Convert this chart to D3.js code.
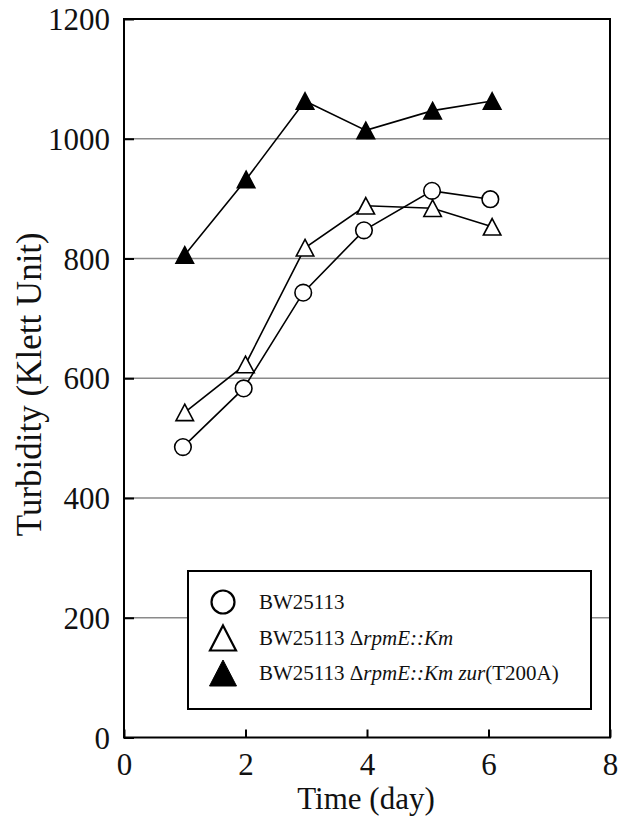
<!DOCTYPE html>
<html>
<head>
<meta charset="utf-8">
<script src="https://cdn.jsdelivr.net/npm/d3@7"></script>
<style>
  html, body { margin: 0; padding: 0; background: #fff; }
  svg { display: block; }
</style>
</head>
<body>
<svg id="chart" width="633" height="819"></svg>
<script>
// ---- data ----
const seriesNames = ["BW25113", "BW25113 ΔrpmE::Km", "BW25113 ΔrpmE::Km zur(T200A)"];
const wtDays = [0.97, 1.97, 2.95, 3.95, 5.07, 6.03];
const wtValues = [485, 583, 743, 847, 913, 899];
const rpmDays = [1.0, 2.0, 2.98, 3.98, 5.08, 6.06];
const rpmValues = [543, 623, 818, 888, 884, 853];
const zurDays = [1.0, 2.01, 2.98, 3.98, 5.08, 6.06];
const zurValues = [806, 932, 1063, 1014, 1047, 1063];
const xTicks = [0, 2, 4, 6, 8];
const yTicks = [0, 200, 400, 600, 800, 1000, 1200];
const gridValues = [200, 400, 600, 800, 1000];

// ---- layout ----
const FONT = "Liberation Serif";
const svg = d3.select("#chart");
const L = 124, R = 610, T = 19, B = 737.5;
const x = d3.scaleLinear().domain([0, 8]).range([L, R]);
const y = d3.scaleLinear().domain([0, 1200]).range([B, T]);

// gridlines
svg.append("g").selectAll("line").data(gridValues).join("line")
  .attr("x1", L).attr("x2", R)
  .attr("y1", d => y(d)).attr("y2", d => y(d))
  .attr("stroke", "#8a8a8a").attr("stroke-width", 1.6);

// axes via d3
const yAxis = d3.axisLeft(y).tickValues(yTicks).tickSize(-10).tickPadding(14).tickFormat(d3.format("d"));
const gy = svg.append("g").attr("transform", `translate(${L},0)`).call(yAxis);
gy.attr("font-family", FONT).attr("font-size", 31);
gy.select(".domain").remove();
gy.selectAll(".tick line").attr("stroke", "#000").attr("stroke-width", 2);
gy.selectAll(".tick text").style("font-family", FONT).attr("fill", "#111").attr("dy", "0.34em");

const xAxis = d3.axisBottom(x).tickValues(xTicks).tickSize(-8).tickPadding(15).tickFormat(d3.format("d"));
const gx = svg.append("g").attr("transform", `translate(0,${B})`).call(xAxis);
gx.attr("font-family", FONT).attr("font-size", 31);
gx.select(".domain").remove();
gx.selectAll(".tick line").attr("stroke", "#000").attr("stroke-width", 2);
gx.selectAll(".tick text").style("font-family", FONT).attr("fill", "#111");

// frame
svg.append("rect").attr("x", L).attr("y", T).attr("width", R - L).attr("height", B - T)
  .attr("fill", "none").attr("stroke", "#000").attr("stroke-width", 2);

// axis titles
svg.append("text").attr("x", (L + R) / 2 - 1).attr("y", 809).attr("text-anchor", "middle")
  .style("font-family", FONT).attr("font-size", 31).attr("fill", "#111").text("Time (day)");
svg.append("text").attr("transform", `translate(41,${(T + B) / 2 + 6}) rotate(-90)`)
  .attr("text-anchor", "middle").style("font-family", FONT).attr("font-size", 35).attr("fill", "#111")
  .text("Turbidity (Klett Unit)");

// marker shapes
function triPath(w, h) { return `M0,${-h / 2}L${w / 2},${h / 2}L${-w / 2},${h / 2}Z`; }

const series = [
  { days: wtDays, values: wtValues, shape: "circle", fill: "#fff" },
  { days: rpmDays, values: rpmValues, shape: "tri", fill: "#fff" },
  { days: zurDays, values: zurValues, shape: "tri", fill: "#000" }
];

const line = d3.line().x(d => x(d[0])).y(d => y(d[1]));
series.forEach(s => {
  const pts = s.days.map((d, i) => [d, s.values[i]]);
  svg.append("path").attr("d", line(pts)).attr("fill", "none")
    .attr("stroke", "#000").attr("stroke-width", 1.6);
});
series.forEach(s => {
  const pts = s.days.map((d, i) => [d, s.values[i]]);
  const g = svg.append("g");
  if (s.shape === "circle") {
    g.selectAll("circle").data(pts).join("circle")
      .attr("cx", d => x(d[0])).attr("cy", d => y(d[1])).attr("r", 8.3)
      .attr("fill", s.fill).attr("stroke", "#000").attr("stroke-width", 1.6);
  } else {
    g.selectAll("path").data(pts).join("path")
      .attr("transform", d => `translate(${x(d[0])},${y(d[1])})`)
      .attr("d", triPath(17.5, 16.5))
      .attr("fill", s.fill).attr("stroke", "#000").attr("stroke-width", 1.6)
      .attr("stroke-linejoin", "miter");
  }
});

// legend
const lg = svg.append("g");
lg.append("rect").attr("x", 188).attr("y", 571).attr("width", 403).attr("height", 138)
  .attr("fill", "#fff").attr("stroke", "#000").attr("stroke-width", 2);
const rowsY = [602, 638, 673];
const mx = 223, tx = 259;
lg.append("circle").attr("cx", mx).attr("cy", rowsY[0]).attr("r", 11.5)
  .attr("fill", "#fff").attr("stroke", "#000").attr("stroke-width", 2.2);
lg.append("path").attr("transform", `translate(${mx},${rowsY[1]})`).attr("d", triPath(26, 25))
  .attr("fill", "#fff").attr("stroke", "#000").attr("stroke-width", 2.2);
lg.append("path").attr("transform", `translate(${mx},${rowsY[2]})`).attr("d", triPath(27, 26))
  .attr("fill", "#000").attr("stroke", "#000").attr("stroke-width", 1);

function legendText(yy, parts) {
  const t = lg.append("text").attr("x", tx).attr("y", yy).attr("dy", "0.35em")
    .style("font-family", FONT).attr("font-size", 21).attr("fill", "#111");
  parts.forEach(p => t.append("tspan").style("font-style", p[1] ? "italic" : "normal").text(p[0]));
}
legendText(rowsY[0], [["BW25113", false]]);
legendText(rowsY[1], [["BW25113 Δ", false], ["rpmE::Km", true]]);
legendText(rowsY[2], [["BW25113 Δ", false], ["rpmE::Km zur", true], ["(T200A)", false]]);
</script>
</body>
</html>
